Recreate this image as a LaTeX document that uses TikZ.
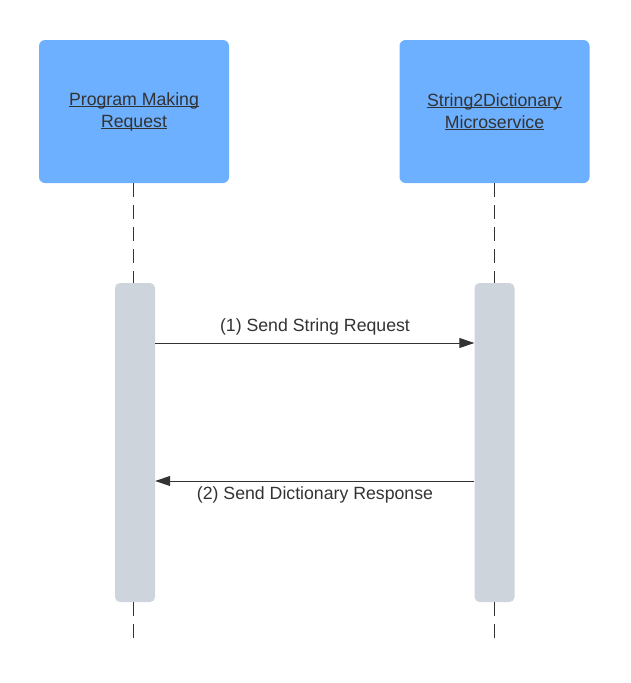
\documentclass[tikz,border=0pt]{standalone}
\usepackage{fontspec}
\setmainfont{Liberation Sans}
\usetikzlibrary{arrows.meta,positioning,calc}
\definecolor{partfill}{RGB}{108,176,255}
\definecolor{actfill}{RGB}{206,212,220}
\definecolor{ink}{RGB}{51,51,51}
\newcommand{\undl}[1]{\setbox0\hbox{#1}\rlap{\rule[-1.6pt]{\wd0}{1pt}}\box0}
\tikzset{
  >={Triangle[length=15pt,width=10pt]},
  every node/.style={font=\fontsize{17.7}{22}\selectfont,text=ink,inner sep=0pt},
  part/.style={fill=partfill,rounded corners=6pt,minimum width=190pt,minimum height=143pt,align=center},
  act/.style={fill=actfill,rounded corners=5pt,minimum width=40pt,minimum height=319pt},
  life/.style={ink,line width=1pt,dash pattern=on 14pt off 8pt},
  msg/.style={->,ink,line width=0.9pt},
  lbl/.style={anchor=base},
}

\begin{document}
\begin{tikzpicture}[x=1pt,y=-1pt]
  \useasboundingbox (0,0) rectangle (631,683);

  % participants
  \node[part] (prog) at (134,111.5) {\undl{Program Making}\\\undl{Request}};
  \node[part] (svc)  at (494.5,111.5) {\undl{String2Dictionary}\\\undl{Microservice}};

  % activation bars
  \node[act] (actL) at (135,442.5) {};
  \node[act] (actR) at (494.5,442.5) {};

  % lifelines
  \coordinate (endL) at (133,643);
  \coordinate (endR) at (494,643);
  \draw[life] (prog.south -| endL) -- (actL.north -| endL);
  \draw[life] (svc.south -| endR) -- (actR.north -| endR);
  \draw[life] (actL.south -| endL) -- (endL);
  \draw[life] (actR.south -| endR) -- (endR);

  % messages
  \coordinate (m1) at (0,343);
  \coordinate (m2) at (0,481);
  \draw[msg] (actL.east |- m1) -- (actR.west |- m1);
  \draw[msg] (actR.west |- m2) -- (actL.east |- m2);
  \node[lbl] (l1) at (315,331.5) {(1) Send String Request};
  \node[lbl] (l2) at (315,499.3) {(2) Send Dictionary Response};
\end{tikzpicture}
\end{document}
